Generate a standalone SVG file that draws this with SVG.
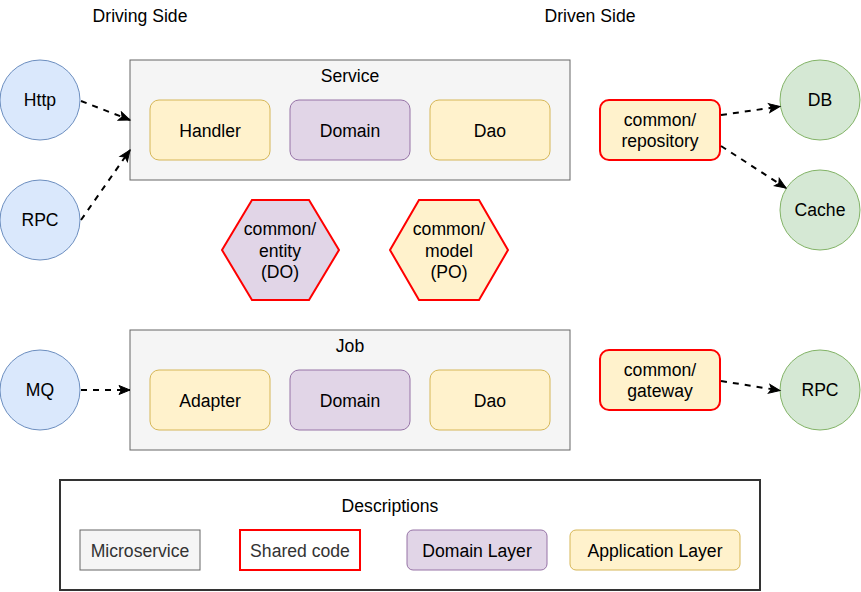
<svg xmlns="http://www.w3.org/2000/svg" width="861" height="592" viewBox="0 0 861 592">
<style>
text{font-family:"Liberation Sans",Arial,sans-serif;font-size:17.6px;fill:#000;text-anchor:middle}
.svc{fill:#f5f5f5;stroke:#666666;stroke-width:1}
.app{fill:#fff2cc;stroke:#d6b656;stroke-width:1}
.dom{fill:#e1d5e7;stroke:#9673a6;stroke-width:1}
.shared{stroke:#ff0000;stroke-width:2}
.blue{fill:#dae8fc;stroke:#6c8ebf;stroke-width:1}
.green{fill:#d5e8d4;stroke:#82b366;stroke-width:1}
.edge{fill:none;stroke:#000;stroke-width:2;stroke-dasharray:6 6;marker-end:url(#arr)}
.gray{fill:#333333}
</style>
<defs>
<marker id="arr" markerUnits="userSpaceOnUse" markerWidth="14" markerHeight="12" viewBox="-1 -6 14 12" refX="11" refY="0" orient="auto">
<path d="M0,-4.5 L11,0 L0,4.5 L2.5,0 Z" fill="#000" stroke="#000" stroke-width="1"/>
</marker>
</defs>
<rect width="861" height="592" fill="#fff"/>
<g id="labels">
<text x="140" y="22">Driving Side</text>
<text x="590" y="22">Driven Side</text>
</g>
<g id="service">
<rect class="svc" x="130" y="60" width="440" height="120"/>
<text x="350" y="82">Service</text>
</g>
<g id="handler"><rect class="app" x="150" y="100" width="120" height="60" rx="9"/><text x="210" y="136.5">Handler</text></g>
<g id="service-domain"><rect class="dom" x="290" y="100" width="120" height="60" rx="9"/><text x="350" y="136.5">Domain</text></g>
<g id="service-dao"><rect class="app" x="430" y="100" width="120" height="60" rx="9"/><text x="490" y="136.5">Dao</text></g>
<g id="job">
<rect class="svc" x="130" y="330" width="440" height="120"/>
<text x="350" y="352">Job</text>
</g>
<g id="adapter"><rect class="app" x="150" y="370" width="120" height="60" rx="9"/><text x="210" y="406.5">Adapter</text></g>
<g id="job-domain"><rect class="dom" x="290" y="370" width="120" height="60" rx="9"/><text x="350" y="406.5">Domain</text></g>
<g id="job-dao"><rect class="app" x="430" y="370" width="120" height="60" rx="9"/><text x="490" y="406.5">Dao</text></g>
<g id="entity">
<polygon fill="#e1d5e7" class="shared" points="222,250 252,200 309,200 339,250 309,300 252,300"/>
<text x="280" y="235">common/</text><text x="280" y="256.5">entity</text><text x="280" y="278">(DO)</text>
</g>
<g id="model">
<polygon fill="#fff2cc" class="shared" points="390,250 419,200 479,200 508,250 479,300 419,300"/>
<text x="449" y="235">common/</text><text x="449" y="256.5">model</text><text x="449" y="278">(PO)</text>
</g>
<g id="repository"><rect fill="#fff2cc" class="shared" x="600" y="100" width="120" height="60" rx="9"/><text x="660" y="125.8">common/</text><text x="660" y="146.8">repository</text></g>
<g id="gateway"><rect fill="#fff2cc" class="shared" x="600" y="350" width="120" height="60" rx="9"/><text x="660" y="375.8">common/</text><text x="660" y="396.8">gateway</text></g>
<g id="http"><circle class="blue" cx="40" cy="100" r="40"/><text x="40" y="106.3">Http</text></g>
<g id="rpc-in"><circle class="blue" cx="40" cy="220" r="40"/><text x="40" y="226.3">RPC</text></g>
<g id="mq"><circle class="blue" cx="40" cy="390" r="40"/><text x="40" y="396.3">MQ</text></g>
<g id="db"><circle class="green" cx="820" cy="100" r="40"/><text x="820" y="106.3">DB</text></g>
<g id="cache"><circle class="green" cx="820" cy="210" r="40"/><text x="820" y="216.3">Cache</text></g>
<g id="rpc-out"><circle class="green" cx="820" cy="390" r="40"/><text x="820" y="396.3">RPC</text></g>
<g id="connectors">
<line class="edge" x1="81" y1="101" x2="130" y2="120"/>
<line class="edge" x1="81" y1="220" x2="130" y2="150"/>
<line class="edge" x1="81" y1="390" x2="130" y2="390"/>
<line class="edge" x1="721" y1="115" x2="780" y2="106.5"/>
<line class="edge" x1="721" y1="146" x2="786" y2="188"/>
<line class="edge" x1="721" y1="381" x2="780" y2="390.5"/>
</g>
<g id="legend">
<rect x="60" y="480" width="700" height="110" fill="#fff" stroke="#333" stroke-width="2"/>
<text x="390" y="512">Descriptions</text>
<rect class="svc" x="80" y="530" width="120" height="40"/><text class="gray" x="140" y="556.5">Microservice</text>
<rect fill="#fff" class="shared" x="240" y="530" width="120" height="40"/><text class="gray" x="300" y="556.5">Shared code</text>
<rect class="dom" x="407" y="530" width="140" height="40" rx="6"/><text x="477" y="556.5">Domain Layer</text>
<rect class="app" x="570" y="530" width="170" height="40" rx="6"/><text x="655" y="556.5">Application Layer</text>
</g>
</svg>
